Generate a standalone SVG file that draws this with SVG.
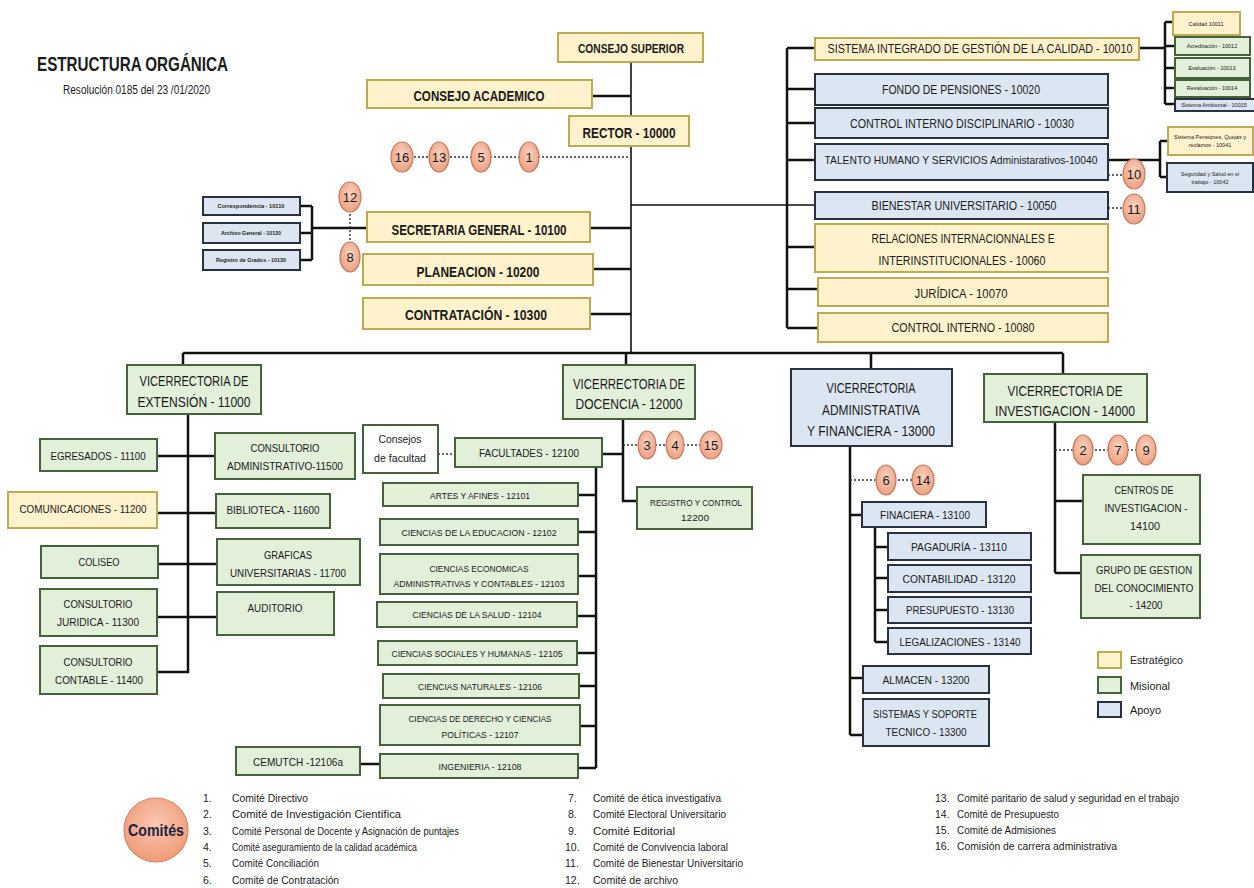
<svg xmlns="http://www.w3.org/2000/svg" width="1254" height="888" viewBox="0 0 1254 888">
<defs>
<radialGradient id="cg" cx="50%" cy="40%" r="60%"><stop offset="0" stop-color="#fad2c0"/><stop offset="1" stop-color="#ec9f80"/></radialGradient>
<radialGradient id="cg2" cx="50%" cy="40%" r="60%"><stop offset="0" stop-color="#fac7b0"/><stop offset="1" stop-color="#ef9b78"/></radialGradient>
<style>
.y{fill:#fff2cc;stroke:#bfaa52;stroke-width:2}
.g{fill:#e2efd9;stroke:#45633a;stroke-width:2}
.w{fill:#ffffff;stroke:#45633a;stroke-width:2}
.b{fill:#dce6f2;stroke:#27313f;stroke-width:2}
.c{fill:url(#cg);stroke:#c47a5c;stroke-width:1.2}
.ln{stroke:#111;stroke-width:2.5;fill:none}
.th{stroke:#111;stroke-width:1.6;fill:none}
.dt{stroke:#333;stroke-width:1.4;stroke-dasharray:2 2;fill:none}
text{font-family:"Liberation Sans",Arial,sans-serif;fill:#1b1b1b;text-anchor:middle}
.bd{font-weight:bold}
.s{font-size:5.5px}
.n{font-size:13px}
.l{text-anchor:start;font-size:10.5px}
.lg{text-anchor:start;font-size:11px}
</style>
</defs>
<rect width="1254" height="888" fill="#fff"/>

<g id="titulo">
<text x="37" y="71" class="bd" style="text-anchor:start;font-size:21px" textLength="191" lengthAdjust="spacingAndGlyphs">ESTRUCTURA ORGÁNICA</text>
<text x="63" y="94" style="text-anchor:start;font-size:12px" textLength="147" lengthAdjust="spacingAndGlyphs">Resolución 0185 del 23 /01/2020</text>
</g>

<g id="connectors">
<path class="th" d="M631 62V353"/>
<path class="ln" d="M592 96H631M590 228H631M593 269H631M590 314H631"/>
<path class="dt" d="M402 157H631"/>
<path class="th" d="M631 205H815"/>
<path class="ln" d="M787 48V328M787 48H815M787 89H815M787 123H815M787 160H815M787 247H815M787 289H818M787 328H818"/>
<path class="ln" d="M1139 48H1165M1165 22V104M1165 22H1173M1165 46H1175M1165 68H1175M1165 88H1175M1165 104H1175"/>
<path class="ln" d="M1108 160H1160M1160 141V177M1160 141H1168M1160 177H1167"/>
<path class="dt" d="M1108 175H1124M1108 208H1124"/>
<path class="ln" d="M312 228H367M312 206V260M300 206H312M300 233H312M300 260H312"/>
<path class="dt" d="M350 210V244"/>
<path class="ln" d="M183 353H1063M183 353V365M626 353V365M871 353V369M1063 353V374"/>
<path class="ln" d="M188 414V672H157M157 456H215M157 513H216M158 564H217M157 617H217"/>
<path class="ln" d="M623 419V501H637M602 454H623M596 467V768M578 495H596M578 532H596M578 576H596M577 616H596M577 653H596M579 686H596M580 726H596M578 768H596M360 764H380"/>
<path class="dt" d="M623 445H700M438 454H455"/>
<path class="ln" d="M850 446V735M850 515H862M875 527V642M875 547H888M875 578H888M875 610H888M875 642H888M850 678H863M850 735H863"/>
<path class="dt" d="M850 480H915"/>
<path class="ln" d="M1055 422V573M1055 501H1083M1055 573H1081"/>
<path class="dt" d="M1055 450H1146"/>
</g>

<g id="consejo-superior"><rect class="y" x="558" y="33" width="145" height="29"/><text x="631" y="53" class="bd" font-size="13.5" textLength="106" lengthAdjust="spacingAndGlyphs">CONSEJO SUPERIOR</text></g>
<g id="consejo-academico"><rect class="y" x="367" y="80" width="225" height="28"/><text x="479" y="101" class="bd" font-size="15" textLength="131" lengthAdjust="spacingAndGlyphs">CONSEJO ACADEMICO</text></g>
<g id="rector"><rect class="y" x="569" y="116" width="120" height="30"/><text x="629" y="138" class="bd" font-size="15" textLength="93" lengthAdjust="spacingAndGlyphs">RECTOR - 10000</text></g>
<g id="secretaria"><rect class="y" x="367" y="212" width="223" height="30"/><text x="479" y="235" class="bd" font-size="15" textLength="175" lengthAdjust="spacingAndGlyphs">SECRETARIA GENERAL - 10100</text></g>
<g id="planeacion"><rect class="y" x="363" y="254" width="230" height="31"/><text x="478" y="277" class="bd" font-size="15" textLength="123" lengthAdjust="spacingAndGlyphs">PLANEACION - 10200</text></g>
<g id="contratacion"><rect class="y" x="363" y="298" width="227" height="31"/><text x="476" y="320" class="bd" font-size="15" textLength="142" lengthAdjust="spacingAndGlyphs">CONTRATACIÓN - 10300</text></g>

<g id="correspondencia"><rect class="b" x="203" y="197" width="97" height="18"/><text x="251" y="208" class="s bd" textLength="67" lengthAdjust="spacingAndGlyphs">Correspondencia - 10110</text></g>
<g id="archivo"><rect class="b" x="203" y="223" width="97" height="20"/><text x="251" y="235" class="s bd" textLength="60" lengthAdjust="spacingAndGlyphs">Archivo General - 10120</text></g>
<g id="registro-grados"><rect class="b" x="203" y="250" width="97" height="20"/><text x="251" y="262" class="s bd" textLength="70" lengthAdjust="spacingAndGlyphs">Registro de Grados - 10130</text></g>

<g id="sig"><rect class="y" x="815" y="38" width="324" height="22"/><text x="980" y="53" font-size="12.5" textLength="305" lengthAdjust="spacingAndGlyphs">SISTEMA INTEGRADO DE GESTIÓN DE LA CALIDAD - 10010</text></g>
<g id="fondo"><rect class="b" x="815" y="74" width="293" height="31"/><text x="961" y="94" font-size="12.5" textLength="158" lengthAdjust="spacingAndGlyphs">FONDO DE PENSIONES - 10020</text></g>
<g id="cid"><rect class="b" x="815" y="108" width="293" height="30"/><text x="962" y="128" font-size="12.5" textLength="224" lengthAdjust="spacingAndGlyphs">CONTROL INTERNO DISCIPLINARIO - 10030</text></g>
<g id="talento"><rect class="b" x="815" y="144" width="293" height="36"/><text x="961" y="164" font-size="11" textLength="273" lengthAdjust="spacingAndGlyphs">TALENTO HUMANO Y SERVICIOS Administarativos-10040</text></g>
<g id="bienestar"><rect class="b" x="815" y="192" width="293" height="27"/><text x="964" y="210" font-size="12.5" textLength="185" lengthAdjust="spacingAndGlyphs">BIENESTAR UNIVERSITARIO - 10050</text></g>
<g id="relaciones"><rect class="y" x="815" y="224" width="293" height="48"/><text x="963" y="243" font-size="12.5" textLength="183" lengthAdjust="spacingAndGlyphs">RELACIONES INTERNACIONNALES E</text><text x="962" y="265" font-size="12.5" textLength="167" lengthAdjust="spacingAndGlyphs">INTERINSTITUCIONALES - 10060</text></g>
<g id="juridica"><rect class="y" x="818" y="278" width="290" height="28"/><text x="961" y="298" font-size="12.5" textLength="93" lengthAdjust="spacingAndGlyphs">JURÍDICA - 10070</text></g>
<g id="control-interno"><rect class="y" x="818" y="313" width="290" height="29"/><text x="963" y="332" font-size="12.5" textLength="143" lengthAdjust="spacingAndGlyphs">CONTROL INTERNO - 10080</text></g>

<g id="calidad"><rect class="y" x="1173" y="12" width="67" height="23"/><text x="1206" y="26" class="s">Calidad 10011</text></g>
<g id="acreditacion"><rect class="g" x="1175" y="37" width="75" height="18"/><text x="1212" y="48" class="s">Acreditación - 10012</text></g>
<g id="evaluacion"><rect class="g" x="1175" y="58" width="75" height="20"/><text x="1212" y="70" class="s">Evaluación - 10013</text></g>
<g id="revaluacion"><rect class="g" x="1175" y="80" width="75" height="17"/><text x="1212" y="90" class="s">Revaluación - 10014</text></g>
<g id="ambiental"><rect class="b" x="1175" y="99" width="80" height="12"/><text x="1214" y="107" class="s">Sistema Ambiental - 10015</text></g>
<g id="pensiones-quejas"><rect class="y" x="1168" y="127" width="85" height="28"/><text x="1210" y="139" class="s">Sistema Pensiones, Quejas y</text><text x="1210" y="147" class="s">reclamos - 10041</text></g>
<g id="seguridad"><rect class="b" x="1167" y="163" width="86" height="29"/><text x="1210" y="176" class="s">Seguridad y Salud en el</text><text x="1210" y="184" class="s">trabajo - 10042</text></g>

<g id="vic-extension"><rect class="g" x="127" y="365" width="134" height="49"/><text x="194" y="386" font-size="14" textLength="109" lengthAdjust="spacingAndGlyphs">VICERRECTORIA DE</text><text x="194" y="407" font-size="14" textLength="113" lengthAdjust="spacingAndGlyphs">EXTENSIÓN - 11000</text></g>
<g id="egresados"><rect class="g" x="40" y="439" width="117" height="32"/><text x="98" y="460" font-size="11.5" textLength="95" lengthAdjust="spacingAndGlyphs">EGRESADOS - 11100</text></g>
<g id="cons-admin"><rect class="g" x="215" y="433" width="140" height="46"/><text x="285" y="452" font-size="11.5" textLength="69" lengthAdjust="spacingAndGlyphs">CONSULTORIO</text><text x="285" y="470" font-size="11.5" textLength="116" lengthAdjust="spacingAndGlyphs">ADMINISTRATIVO-11500</text></g>
<g id="comunicaciones"><rect class="y" x="8" y="492" width="149" height="36"/><text x="83" y="513" font-size="11.5" textLength="127" lengthAdjust="spacingAndGlyphs">COMUNICACIONES - 11200</text></g>
<g id="biblioteca"><rect class="g" x="216" y="494" width="114" height="34"/><text x="273" y="514" font-size="11.5" textLength="93" lengthAdjust="spacingAndGlyphs">BIBLIOTECA - 11600</text></g>
<g id="coliseo"><rect class="g" x="41" y="546" width="117" height="32"/><text x="99" y="566" font-size="11.5" textLength="41" lengthAdjust="spacingAndGlyphs">COLISEO</text></g>
<g id="graficas"><rect class="g" x="217" y="539" width="143" height="46"/><text x="288" y="559" font-size="11.5" textLength="48" lengthAdjust="spacingAndGlyphs">GRAFICAS</text><text x="288" y="577" font-size="11.5" textLength="116" lengthAdjust="spacingAndGlyphs">UNIVERSITARIAS - 11700</text></g>
<g id="cons-juridica"><rect class="g" x="40" y="589" width="117" height="47"/><text x="98" y="608" font-size="11.5" textLength="69" lengthAdjust="spacingAndGlyphs">CONSULTORIO</text><text x="98" y="626" font-size="11.5" textLength="82" lengthAdjust="spacingAndGlyphs">JURIDICA - 11300</text></g>
<g id="auditorio"><rect class="g" x="217" y="592" width="117" height="43"/><text x="275" y="612" font-size="11.5" textLength="55" lengthAdjust="spacingAndGlyphs">AUDITORIO</text></g>
<g id="cons-contable"><rect class="g" x="40" y="646" width="117" height="48"/><text x="98" y="666" font-size="11.5" textLength="69" lengthAdjust="spacingAndGlyphs">CONSULTORIO</text><text x="99" y="684" font-size="11.5" textLength="88" lengthAdjust="spacingAndGlyphs">CONTABLE - 11400</text></g>

<g id="vic-docencia"><rect class="g" x="563" y="365" width="132" height="54"/><text x="629" y="389" font-size="14" textLength="112" lengthAdjust="spacingAndGlyphs">VICERRECTORIA DE</text><text x="629" y="409" font-size="14" textLength="107" lengthAdjust="spacingAndGlyphs">DOCENCIA - 12000</text></g>
<g id="consejos-facultad"><rect class="w" x="363" y="425" width="75" height="48"/><text x="400" y="443" font-size="11" textLength="43" lengthAdjust="spacingAndGlyphs">Consejos</text><text x="400" y="462" font-size="11" textLength="52" lengthAdjust="spacingAndGlyphs">de facultad</text></g>
<g id="facultades"><rect class="g" x="455" y="438" width="147" height="29"/><text x="529" y="457" font-size="11" textLength="100" lengthAdjust="spacingAndGlyphs">FACULTADES - 12100</text></g>
<g id="registro-control"><rect class="g" x="637" y="487" width="115" height="42"/><text x="696" y="506" font-size="9.5" textLength="92" lengthAdjust="spacingAndGlyphs">REGISTRO Y CONTROL</text><text x="695" y="521" font-size="9.5" textLength="28" lengthAdjust="spacingAndGlyphs">12200</text></g>
<g id="artes"><rect class="g" x="383" y="483" width="195" height="23"/><text x="480" y="499" font-size="9.5" textLength="100" lengthAdjust="spacingAndGlyphs">ARTES Y AFINES - 12101</text></g>
<g id="educacion"><rect class="g" x="380" y="519" width="198" height="26"/><text x="479" y="536" font-size="9.5" textLength="155" lengthAdjust="spacingAndGlyphs">CIENCIAS DE LA EDUCACION - 12102</text></g>
<g id="economicas"><rect class="g" x="380" y="554" width="198" height="40"/><text x="479" y="572" font-size="9.5" textLength="99" lengthAdjust="spacingAndGlyphs">CIENCIAS ECONOMICAS</text><text x="479" y="587" font-size="9.5" textLength="171" lengthAdjust="spacingAndGlyphs">ADMINISTRATIVAS Y CONTABLES - 12103</text></g>
<g id="salud"><rect class="g" x="377" y="602" width="200" height="25"/><text x="477" y="618" font-size="9.5" textLength="129" lengthAdjust="spacingAndGlyphs">CIENCIAS DE LA SALUD - 12104</text></g>
<g id="sociales"><rect class="g" x="378" y="641" width="199" height="24"/><text x="477" y="657" font-size="9.5" textLength="171" lengthAdjust="spacingAndGlyphs">CIENCIAS SOCIALES Y HUMANAS  - 12105</text></g>
<g id="naturales"><rect class="g" x="383" y="674" width="196" height="24"/><text x="480" y="690" font-size="9.5" textLength="124" lengthAdjust="spacingAndGlyphs">CIENCIAS NATURALES - 12106</text></g>
<g id="derecho"><rect class="g" x="380" y="705" width="200" height="40"/><text x="480" y="722" font-size="9.5" textLength="143" lengthAdjust="spacingAndGlyphs">CIENCIAS DE DERECHO Y CIENCIAS</text><text x="480" y="738" font-size="9.5" textLength="77" lengthAdjust="spacingAndGlyphs">POLÍTICAS - 12107</text></g>
<g id="ingenieria"><rect class="g" x="380" y="754" width="198" height="24"/><text x="480" y="770" font-size="9.5" textLength="83" lengthAdjust="spacingAndGlyphs">INGENIERIA - 12108</text></g>
<g id="cemutch"><rect class="g" x="236" y="747" width="124" height="28"/><text x="298" y="766" font-size="11" textLength="90" lengthAdjust="spacingAndGlyphs">CEMUTCH -12106a</text></g>

<g id="vic-administrativa"><rect class="b" x="791" y="369" width="161" height="77"/><text x="871" y="393" font-size="14" textLength="89" lengthAdjust="spacingAndGlyphs">VICERRECTORIA</text><text x="871" y="415" font-size="14" textLength="98" lengthAdjust="spacingAndGlyphs">ADMINISTRATIVA</text><text x="871" y="436" font-size="14" textLength="128" lengthAdjust="spacingAndGlyphs">Y FINANCIERA - 13000</text></g>
<g id="financiera"><rect class="b" x="862" y="502" width="124" height="25"/><text x="925" y="519" font-size="11.5" textLength="90" lengthAdjust="spacingAndGlyphs">FINACIERA - 13100</text></g>
<g id="pagaduria"><rect class="b" x="888" y="533" width="143" height="27"/><text x="959" y="551" font-size="11.5" textLength="96" lengthAdjust="spacingAndGlyphs">PAGADURÍA - 13110</text></g>
<g id="contabilidad"><rect class="b" x="888" y="565" width="143" height="27"/><text x="959" y="583" font-size="11.5" textLength="113" lengthAdjust="spacingAndGlyphs">CONTABILIDAD - 13120</text></g>
<g id="presupuesto"><rect class="b" x="888" y="597" width="143" height="26"/><text x="960" y="614" font-size="11.5" textLength="108" lengthAdjust="spacingAndGlyphs">PRESUPUESTO - 13130</text></g>
<g id="legalizaciones"><rect class="b" x="888" y="628" width="143" height="26"/><text x="960" y="646" font-size="11.5" textLength="121" lengthAdjust="spacingAndGlyphs">LEGALIZACIONES - 13140</text></g>
<g id="almacen"><rect class="b" x="863" y="666" width="126" height="27"/><text x="926" y="684" font-size="11.5" textLength="87" lengthAdjust="spacingAndGlyphs">ALMACEN - 13200</text></g>
<g id="sistemas"><rect class="b" x="863" y="699" width="126" height="47"/><text x="925" y="718" font-size="11.5" textLength="104" lengthAdjust="spacingAndGlyphs">SISTEMAS Y SOPORTE</text><text x="926" y="736" font-size="11.5" textLength="81" lengthAdjust="spacingAndGlyphs">TECNICO - 13300</text></g>

<g id="vic-investigacion"><rect class="g" x="984" y="374" width="163" height="48"/><text x="1065" y="396" font-size="14" textLength="115" lengthAdjust="spacingAndGlyphs">VICERRECTORIA DE</text><text x="1065" y="416" font-size="14" textLength="140" lengthAdjust="spacingAndGlyphs">INVESTIGACION - 14000</text></g>
<g id="centros"><rect class="g" x="1083" y="475" width="117" height="69"/><text x="1144" y="494" font-size="11.5" textLength="59" lengthAdjust="spacingAndGlyphs">CENTROS DE</text><text x="1146" y="512" font-size="11.5" textLength="83" lengthAdjust="spacingAndGlyphs">INVESTIGACION -</text><text x="1145" y="530" font-size="11.5" textLength="30" lengthAdjust="spacingAndGlyphs">14100</text></g>
<g id="grupo-gestion"><rect class="g" x="1081" y="555" width="119" height="63"/><text x="1144" y="574" font-size="11.5" textLength="96" lengthAdjust="spacingAndGlyphs">GRUPO DE GESTION</text><text x="1144" y="592" font-size="11.5" textLength="99" lengthAdjust="spacingAndGlyphs">DEL CONOCIMIENTO</text><text x="1146" y="609" font-size="11.5" textLength="33" lengthAdjust="spacingAndGlyphs">- 14200</text></g>

<g id="comite-circulos">
<ellipse class="c" cx="402" cy="157" rx="11" ry="15"/><text x="402" y="162" class="n">16</text>
<ellipse class="c" cx="439" cy="157" rx="10" ry="15"/><text x="439" y="162" class="n">13</text>
<ellipse class="c" cx="481" cy="157" rx="10" ry="15"/><text x="481" y="162" class="n">5</text>
<ellipse class="c" cx="529" cy="157" rx="10" ry="15"/><text x="529" y="162" class="n">1</text>
<ellipse class="c" cx="350" cy="197" rx="11" ry="15"/><text x="350" y="202" class="n">12</text>
<ellipse class="c" cx="350" cy="257" rx="10" ry="15"/><text x="350" y="262" class="n">8</text>
<ellipse class="c" cx="1134" cy="174" rx="11" ry="15"/><text x="1134" y="179" class="n">10</text>
<ellipse class="c" cx="1134" cy="209" rx="11" ry="15"/><text x="1134" y="214" class="n">11</text>
<ellipse class="c" cx="647" cy="445" rx="9" ry="14"/><text x="647" y="450" class="n">3</text>
<ellipse class="c" cx="675" cy="445" rx="9" ry="14"/><text x="675" y="450" class="n">4</text>
<ellipse class="c" cx="711" cy="445" rx="11" ry="14"/><text x="711" y="450" class="n">15</text>
<ellipse class="c" cx="886" cy="480" rx="10" ry="15"/><text x="886" y="485" class="n">6</text>
<ellipse class="c" cx="923" cy="480" rx="11" ry="15"/><text x="923" y="485" class="n">14</text>
<ellipse class="c" cx="1083" cy="450" rx="10" ry="15"/><text x="1083" y="455" class="n">2</text>
<ellipse class="c" cx="1118" cy="450" rx="10" ry="15"/><text x="1118" y="455" class="n">7</text>
<ellipse class="c" cx="1146" cy="450" rx="10" ry="15"/><text x="1146" y="455" class="n">9</text>
</g>

<g id="leyenda">
<rect class="y" x="1098" y="652" width="23" height="16"/><text x="1130" y="664" class="lg" textLength="53" lengthAdjust="spacingAndGlyphs">Estratégico</text>
<rect class="g" x="1098" y="677" width="23" height="16"/><text x="1130" y="690" class="lg" textLength="40" lengthAdjust="spacingAndGlyphs">Misional</text>
<rect class="b" x="1098" y="702" width="23" height="15"/><text x="1130" y="714" class="lg" textLength="31" lengthAdjust="spacingAndGlyphs">Apoyo</text>
</g>

<g id="comites">
<circle cx="156" cy="830" r="32" fill="url(#cg2)" stroke="#d9876a" stroke-width="1.2"/>
<text x="156" y="836" class="bd" font-size="17" style="fill:#1c2340" textLength="56" lengthAdjust="spacingAndGlyphs">Comités</text>
<text x="203" y="802" class="l">1.</text><text x="232" y="802" class="l" textLength="76" lengthAdjust="spacingAndGlyphs">Comité Directivo</text>
<text x="203" y="818" class="l">2.</text><text x="232" y="818" class="l" textLength="169" lengthAdjust="spacingAndGlyphs">Comité de Investigación Científica</text>
<text x="203" y="835" class="l">3.</text><text x="232" y="835" class="l" textLength="227" lengthAdjust="spacingAndGlyphs">Comité Personal de Docente y Asignación de puntajes</text>
<text x="203" y="851" class="l">4.</text><text x="232" y="851" class="l" textLength="185" lengthAdjust="spacingAndGlyphs">Comité aseguramiento de la calidad académica</text>
<text x="203" y="867" class="l">5.</text><text x="232" y="867" class="l" textLength="87" lengthAdjust="spacingAndGlyphs">Comité Conciliación</text>
<text x="203" y="884" class="l">6.</text><text x="232" y="884" class="l" textLength="107" lengthAdjust="spacingAndGlyphs">Comité de Contratación</text>
<text x="568" y="802" class="l">7.</text><text x="593" y="802" class="l" textLength="128" lengthAdjust="spacingAndGlyphs">Comité de ética investigativa</text>
<text x="568" y="818" class="l">8.</text><text x="593" y="818" class="l" textLength="133" lengthAdjust="spacingAndGlyphs">Comité Electoral Universitario</text>
<text x="568" y="835" class="l">9.</text><text x="593" y="835" class="l" textLength="82" lengthAdjust="spacingAndGlyphs">Comité Editorial</text>
<text x="565" y="851" class="l">10.</text><text x="593" y="851" class="l" textLength="135" lengthAdjust="spacingAndGlyphs">Comité de Convivencia laboral</text>
<text x="565" y="867" class="l">11.</text><text x="593" y="867" class="l" textLength="150" lengthAdjust="spacingAndGlyphs">Comité de Bienestar Universitario</text>
<text x="565" y="884" class="l">12.</text><text x="593" y="884" class="l" textLength="85" lengthAdjust="spacingAndGlyphs">Comité de archivo</text>
<text x="935" y="802" class="l">13.</text><text x="957" y="802" class="l" textLength="222" lengthAdjust="spacingAndGlyphs">Comité paritario de salud y seguridad en el trabajo</text>
<text x="935" y="818" class="l">14.</text><text x="957" y="818" class="l" textLength="102" lengthAdjust="spacingAndGlyphs">Comité de Presupuesto</text>
<text x="935" y="834" class="l">15.</text><text x="957" y="834" class="l" textLength="99" lengthAdjust="spacingAndGlyphs">Comité de Admisiones</text>
<text x="935" y="850" class="l">16.</text><text x="957" y="850" class="l" textLength="160" lengthAdjust="spacingAndGlyphs">Comisión de carrera administrativa</text>
</g>
</svg>
